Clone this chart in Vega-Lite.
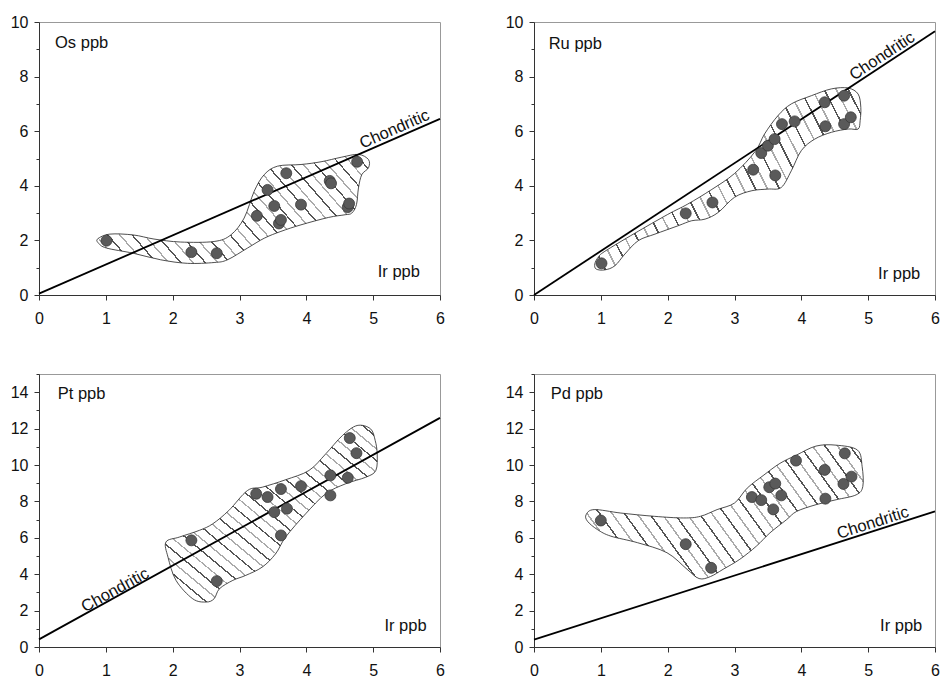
{
  "$schema": "https://vega.github.io/schema/vega-lite/v6.json",
  "background": "white",
  "padding": {"left": 9, "top": 13, "right": 5, "bottom": 5},
  "bounds": "flush",
  "columns": 2,
  "spacing": {"row": 79, "column": 94},
  "datasets": {
    "pts": [
      {"p":"Os","x":1.01,"y":1.99},{"p":"Os","x":2.28,"y":1.57},{"p":"Os","x":2.66,"y":1.53},{"p":"Os","x":3.26,"y":2.9},{"p":"Os","x":3.42,"y":3.85},{"p":"Os","x":3.52,"y":3.26},{"p":"Os","x":3.59,"y":2.62},{"p":"Os","x":3.62,"y":2.75},{"p":"Os","x":3.7,"y":4.46},{"p":"Os","x":3.92,"y":3.31},{"p":"Os","x":4.35,"y":4.18},{"p":"Os","x":4.37,"y":4.09},{"p":"Os","x":4.62,"y":3.22},{"p":"Os","x":4.64,"y":3.35},{"p":"Os","x":4.76,"y":4.88},
      {"p":"Ru","x":1.01,"y":1.16},{"p":"Ru","x":2.27,"y":2.99},{"p":"Ru","x":2.67,"y":3.39},{"p":"Ru","x":3.28,"y":4.59},{"p":"Ru","x":3.4,"y":5.2},{"p":"Ru","x":3.5,"y":5.47},{"p":"Ru","x":3.6,"y":5.71},{"p":"Ru","x":3.61,"y":4.38},{"p":"Ru","x":3.71,"y":6.26},{"p":"Ru","x":3.9,"y":6.36},{"p":"Ru","x":4.35,"y":7.06},{"p":"Ru","x":4.36,"y":6.18},{"p":"Ru","x":4.64,"y":7.3},{"p":"Ru","x":4.64,"y":6.26},{"p":"Ru","x":4.74,"y":6.51},
      {"p":"Pt","x":2.28,"y":5.86},{"p":"Pt","x":2.66,"y":3.62},{"p":"Pt","x":3.25,"y":8.42},{"p":"Pt","x":3.42,"y":8.24},{"p":"Pt","x":3.52,"y":7.41},{"p":"Pt","x":3.62,"y":8.68},{"p":"Pt","x":3.62,"y":6.13},{"p":"Pt","x":3.71,"y":7.6},{"p":"Pt","x":3.92,"y":8.84},{"p":"Pt","x":4.36,"y":9.43},{"p":"Pt","x":4.36,"y":8.33},{"p":"Pt","x":4.62,"y":9.3},{"p":"Pt","x":4.65,"y":11.48},{"p":"Pt","x":4.75,"y":10.65},
      {"p":"Pd","x":1.0,"y":6.95},{"p":"Pd","x":2.27,"y":5.65},{"p":"Pd","x":2.65,"y":4.35},{"p":"Pd","x":3.26,"y":8.24},{"p":"Pd","x":3.4,"y":8.07},{"p":"Pd","x":3.52,"y":8.78},{"p":"Pd","x":3.61,"y":8.98},{"p":"Pd","x":3.58,"y":7.56},{"p":"Pd","x":3.7,"y":8.33},{"p":"Pd","x":3.92,"y":10.24},{"p":"Pd","x":4.35,"y":9.73},{"p":"Pd","x":4.36,"y":8.15},{"p":"Pd","x":4.65,"y":10.64},{"p":"Pd","x":4.63,"y":8.96},{"p":"Pd","x":4.75,"y":9.36}
    ],
    "chon": [
      {"p":"Os","x":0,"y":0.05},{"p":"Os","x":6,"y":6.45},
      {"p":"Ru","x":0,"y":0},{"p":"Ru","x":6,"y":9.66},
      {"p":"Pt","x":0,"y":0.42},{"p":"Pt","x":6,"y":12.59},
      {"p":"Pd","x":0,"y":0.4},{"p":"Pd","x":6,"y":7.45}
    ],
    "env": [
      {"p":"Os","i":0,"x":0.88,"y":2.06},{"p":"Os","i":1,"x":1.06,"y":2.23},{"p":"Os","i":2,"x":1.41,"y":2.2},{"p":"Os","i":3,"x":1.72,"y":2.05},{"p":"Os","i":4,"x":2.12,"y":1.94},{"p":"Os","i":5,"x":2.62,"y":1.96},{"p":"Os","i":6,"x":2.87,"y":2.2},{"p":"Os","i":7,"x":3.07,"y":2.82},{"p":"Os","i":8,"x":3.22,"y":3.8},{"p":"Os","i":9,"x":3.37,"y":4.41},{"p":"Os","i":10,"x":3.57,"y":4.72},{"p":"Os","i":11,"x":3.92,"y":4.78},{"p":"Os","i":12,"x":4.22,"y":4.88},{"p":"Os","i":13,"x":4.53,"y":5.05},{"p":"Os","i":14,"x":4.78,"y":5.15},{"p":"Os","i":15,"x":4.93,"y":4.96},{"p":"Os","i":16,"x":4.93,"y":4.66},{"p":"Os","i":17,"x":4.83,"y":4.41},{"p":"Os","i":18,"x":4.78,"y":3.92},{"p":"Os","i":19,"x":4.75,"y":3.31},{"p":"Os","i":20,"x":4.68,"y":3.0},{"p":"Os","i":21,"x":4.58,"y":2.94},{"p":"Os","i":22,"x":4.33,"y":2.84},{"p":"Os","i":23,"x":3.92,"y":2.57},{"p":"Os","i":24,"x":3.62,"y":2.33},{"p":"Os","i":25,"x":3.37,"y":2.08},{"p":"Os","i":26,"x":3.12,"y":1.72},{"p":"Os","i":27,"x":2.82,"y":1.29},{"p":"Os","i":28,"x":2.62,"y":1.19},{"p":"Os","i":29,"x":2.22,"y":1.16},{"p":"Os","i":30,"x":1.82,"y":1.29},{"p":"Os","i":31,"x":1.41,"y":1.53},{"p":"Os","i":32,"x":1.01,"y":1.72},{"p":"Os","i":33,"x":0.89,"y":1.9},
      {"p":"Ru","i":0,"x":0.91,"y":1.14},{"p":"Ru","i":1,"x":0.96,"y":1.38},{"p":"Ru","i":2,"x":1.06,"y":1.6},{"p":"Ru","i":3,"x":1.5,"y":2.25},{"p":"Ru","i":4,"x":2.0,"y":2.95},{"p":"Ru","i":5,"x":2.3,"y":3.33},{"p":"Ru","i":6,"x":2.65,"y":3.85},{"p":"Ru","i":7,"x":3.0,"y":4.45},{"p":"Ru","i":8,"x":3.31,"y":5.26},{"p":"Ru","i":9,"x":3.45,"y":5.9},{"p":"Ru","i":10,"x":3.65,"y":6.57},{"p":"Ru","i":11,"x":3.85,"y":7.0},{"p":"Ru","i":12,"x":4.15,"y":7.3},{"p":"Ru","i":13,"x":4.45,"y":7.55},{"p":"Ru","i":14,"x":4.7,"y":7.58},{"p":"Ru","i":15,"x":4.85,"y":7.36},{"p":"Ru","i":16,"x":4.89,"y":6.87},{"p":"Ru","i":17,"x":4.88,"y":6.39},{"p":"Ru","i":18,"x":4.85,"y":6.08},{"p":"Ru","i":19,"x":4.7,"y":6.08},{"p":"Ru","i":20,"x":4.45,"y":5.96},{"p":"Ru","i":21,"x":4.2,"y":5.71},{"p":"Ru","i":22,"x":4.0,"y":5.29},{"p":"Ru","i":23,"x":3.85,"y":4.55},{"p":"Ru","i":24,"x":3.7,"y":3.94},{"p":"Ru","i":25,"x":3.5,"y":3.88},{"p":"Ru","i":26,"x":3.26,"y":3.82},{"p":"Ru","i":27,"x":3.0,"y":3.58},{"p":"Ru","i":28,"x":2.76,"y":3.03},{"p":"Ru","i":29,"x":2.56,"y":2.78},{"p":"Ru","i":30,"x":2.36,"y":2.72},{"p":"Ru","i":31,"x":2.16,"y":2.54},{"p":"Ru","i":32,"x":1.81,"y":2.23},{"p":"Ru","i":33,"x":1.56,"y":1.99},{"p":"Ru","i":34,"x":1.36,"y":1.5},{"p":"Ru","i":35,"x":1.21,"y":1.07},{"p":"Ru","i":36,"x":1.06,"y":0.92},{"p":"Ru","i":37,"x":0.93,"y":0.95},
      {"p":"Pt","i":0,"x":1.9,"y":5.77},{"p":"Pt","i":1,"x":2.1,"y":6.04},{"p":"Pt","i":2,"x":2.4,"y":6.41},{"p":"Pt","i":3,"x":2.6,"y":6.77},{"p":"Pt","i":4,"x":2.84,"y":7.5},{"p":"Pt","i":5,"x":3.12,"y":8.6},{"p":"Pt","i":6,"x":3.34,"y":8.78},{"p":"Pt","i":7,"x":3.69,"y":9.19},{"p":"Pt","i":8,"x":4.04,"y":9.7},{"p":"Pt","i":9,"x":4.29,"y":10.61},{"p":"Pt","i":10,"x":4.54,"y":11.62},{"p":"Pt","i":11,"x":4.76,"y":12.17},{"p":"Pt","i":12,"x":4.96,"y":11.99},{"p":"Pt","i":13,"x":5.03,"y":11.35},{"p":"Pt","i":14,"x":5.06,"y":10.61},{"p":"Pt","i":15,"x":5.04,"y":9.7},{"p":"Pt","i":16,"x":4.89,"y":9.33},{"p":"Pt","i":17,"x":4.59,"y":8.97},{"p":"Pt","i":18,"x":4.29,"y":8.42},{"p":"Pt","i":19,"x":3.99,"y":7.32},{"p":"Pt","i":20,"x":3.69,"y":6.04},{"p":"Pt","i":21,"x":3.54,"y":5.12},{"p":"Pt","i":22,"x":3.34,"y":4.39},{"p":"Pt","i":23,"x":3.09,"y":3.93},{"p":"Pt","i":24,"x":2.9,"y":3.66},{"p":"Pt","i":25,"x":2.7,"y":3.2},{"p":"Pt","i":26,"x":2.62,"y":2.65},{"p":"Pt","i":27,"x":2.5,"y":2.47},{"p":"Pt","i":28,"x":2.3,"y":2.65},{"p":"Pt","i":29,"x":2.05,"y":3.66},{"p":"Pt","i":30,"x":1.93,"y":4.94},
      {"p":"Pd","i":0,"x":0.78,"y":7.27},{"p":"Pd","i":1,"x":0.9,"y":7.55},{"p":"Pd","i":2,"x":1.3,"y":7.36},{"p":"Pd","i":3,"x":1.8,"y":7.18},{"p":"Pd","i":4,"x":2.24,"y":7.09},{"p":"Pd","i":5,"x":2.49,"y":7.18},{"p":"Pd","i":6,"x":2.74,"y":7.55},{"p":"Pd","i":7,"x":3.0,"y":7.91},{"p":"Pd","i":8,"x":3.19,"y":8.73},{"p":"Pd","i":9,"x":3.44,"y":9.45},{"p":"Pd","i":10,"x":3.68,"y":10.09},{"p":"Pd","i":11,"x":3.93,"y":10.55},{"p":"Pd","i":12,"x":4.22,"y":11.04},{"p":"Pd","i":13,"x":4.52,"y":11.09},{"p":"Pd","i":14,"x":4.84,"y":10.82},{"p":"Pd","i":15,"x":4.91,"y":9.91},{"p":"Pd","i":16,"x":4.92,"y":8.82},{"p":"Pd","i":17,"x":4.82,"y":8.36},{"p":"Pd","i":18,"x":4.52,"y":8.09},{"p":"Pd","i":19,"x":4.22,"y":7.82},{"p":"Pd","i":20,"x":3.93,"y":7.45},{"p":"Pd","i":21,"x":3.78,"y":7.0},{"p":"Pd","i":22,"x":3.53,"y":6.27},{"p":"Pd","i":23,"x":3.33,"y":5.55},{"p":"Pd","i":24,"x":3.08,"y":4.82},{"p":"Pd","i":25,"x":2.83,"y":4.27},{"p":"Pd","i":26,"x":2.64,"y":3.87},{"p":"Pd","i":27,"x":2.47,"y":3.76},{"p":"Pd","i":28,"x":2.29,"y":4.27},{"p":"Pd","i":29,"x":1.99,"y":5.18},{"p":"Pd","i":30,"x":1.55,"y":5.73},{"p":"Pd","i":31,"x":1.15,"y":6.09},{"p":"Pd","i":32,"x":0.95,"y":6.45},{"p":"Pd","i":33,"x":0.8,"y":6.91}
    ],
    "lab": [
      {"p":"Os","k":"el","x":0.24,"y":9.23,"t":"Os ppb"},{"p":"Os","k":"ir","x":5.7,"y":0.85,"t":"Ir ppb"},{"p":"Os","k":"ch","x":5.32,"y":6.07,"t":"Chondritic"},
      {"p":"Ru","k":"el","x":0.22,"y":9.18,"t":"Ru ppb"},{"p":"Ru","k":"ir","x":5.78,"y":0.77,"t":"Ir ppb"},{"p":"Ru","k":"ch","x":5.21,"y":8.75,"t":"Chondritic"},
      {"p":"Pt","k":"el","x":0.28,"y":13.9,"t":"Pt ppb"},{"p":"Pt","k":"ir","x":5.8,"y":1.14,"t":"Ir ppb"},{"p":"Pt","k":"ch","x":1.14,"y":3.12,"t":"Chondritic"},
      {"p":"Pd","k":"el","x":0.25,"y":13.9,"t":"Pd ppb"},{"p":"Pd","k":"ir","x":5.81,"y":1.16,"t":"Ir ppb"},{"p":"Pd","k":"ch","x":5.07,"y":6.82,"t":"Chondritic"}
    ]
  },
  "concat": [
    {
      "width": 401, "height": 273,
      "encoding": {
        "x": {"field":"x","type":"quantitative","title":null,"scale":{"domain":[0,6],"nice":false,"zero":false},"axis":{"values":[0,1,2,3,4,5,6]}},
        "y": {"field":"y","type":"quantitative","title":null,"scale":{"domain":[0,10],"nice":false},"axis":{"values":[0,1,2,3,4,5,6,7,8,9,10],"labelExpr":"datum.value % 2 === 0 ? datum.label : ''","tickSize":{"condition":{"test":"datum.value % 2 === 1","value":3},"value":5}}}
      },
      "layer": [
        {"data":{"name":"env"},"transform":[{"filter":"datum.p==='Os'"}],"mark":{"type":"line","interpolate":"cardinal-closed","style":"hatch","stroke":"#222","strokeWidth":0.8},"encoding":{"order":{"field":"i","type":"quantitative"}}},
        {"data":{"name":"chon"},"transform":[{"filter":"datum.p==='Os'"}],"mark":{"type":"line","stroke":"#000","strokeWidth":1.8},"encoding":{}},
        {"data":{"name":"pts"},"transform":[{"filter":"datum.p==='Os'"}],"mark":{"type":"circle","size":120,"fill":"#5a5a5a","stroke":"#3a3a3a","strokeWidth":0.8,"opacity":1},"encoding":{}},
        {"data":{"name":"lab"},"transform":[{"filter":"datum.p==='Os' && datum.k==='el'"}],"mark":{"type":"text","align":"left","baseline":"middle"},"encoding":{"text":{"field":"t"}}},
        {"data":{"name":"lab"},"transform":[{"filter":"datum.p==='Os' && datum.k==='ir'"}],"mark":{"type":"text","align":"right","baseline":"middle"},"encoding":{"text":{"field":"t"}}},
        {"data":{"name":"lab"},"transform":[{"filter":"datum.p==='Os' && datum.k==='ch'"}],"mark":{"type":"text","align":"center","baseline":"middle","angle":336.4},"encoding":{"text":{"field":"t"}}}
      ]
    },
    {
      "width": 401, "height": 273,
      "encoding": {
        "x": {"field":"x","type":"quantitative","title":null,"scale":{"domain":[0,6],"nice":false,"zero":false},"axis":{"values":[0,1,2,3,4,5,6]}},
        "y": {"field":"y","type":"quantitative","title":null,"scale":{"domain":[0,10],"nice":false},"axis":{"values":[0,1,2,3,4,5,6,7,8,9,10],"labelExpr":"datum.value % 2 === 0 ? datum.label : ''","tickSize":{"condition":{"test":"datum.value % 2 === 1","value":3},"value":5}}}
      },
      "layer": [
        {"data":{"name":"env"},"transform":[{"filter":"datum.p==='Ru'"}],"mark":{"type":"line","interpolate":"cardinal-closed","style":"hatch","stroke":"#222","strokeWidth":0.8},"encoding":{"order":{"field":"i","type":"quantitative"}}},
        {"data":{"name":"chon"},"transform":[{"filter":"datum.p==='Ru'"}],"mark":{"type":"line","stroke":"#000","strokeWidth":1.8},"encoding":{}},
        {"data":{"name":"pts"},"transform":[{"filter":"datum.p==='Ru'"}],"mark":{"type":"circle","size":120,"fill":"#5a5a5a","stroke":"#3a3a3a","strokeWidth":0.8,"opacity":1},"encoding":{}},
        {"data":{"name":"lab"},"transform":[{"filter":"datum.p==='Ru' && datum.k==='el'"}],"mark":{"type":"text","align":"left","baseline":"middle"},"encoding":{"text":{"field":"t"}}},
        {"data":{"name":"lab"},"transform":[{"filter":"datum.p==='Ru' && datum.k==='ir'"}],"mark":{"type":"text","align":"right","baseline":"middle"},"encoding":{"text":{"field":"t"}}},
        {"data":{"name":"lab"},"transform":[{"filter":"datum.p==='Ru' && datum.k==='ch'"}],"mark":{"type":"text","align":"center","baseline":"middle","angle":326.7},"encoding":{"text":{"field":"t"}}}
      ]
    },
    {
      "width": 401, "height": 273,
      "encoding": {
        "x": {"field":"x","type":"quantitative","title":null,"scale":{"domain":[0,6],"nice":false,"zero":false},"axis":{"values":[0,1,2,3,4,5,6]}},
        "y": {"field":"y","type":"quantitative","title":null,"scale":{"domain":[0,15],"nice":false},"axis":{"values":[0,1,2,3,4,5,6,7,8,9,10,11,12,13,14,15],"labelExpr":"datum.value % 2 === 0 ? datum.label : ''","tickSize":{"condition":{"test":"datum.value % 2 === 1","value":3},"value":5}}}
      },
      "layer": [
        {"data":{"name":"env"},"transform":[{"filter":"datum.p==='Pt'"}],"mark":{"type":"line","interpolate":"cardinal-closed","style":"hatch2","stroke":"#222","strokeWidth":0.8},"encoding":{"order":{"field":"i","type":"quantitative"}}},
        {"data":{"name":"chon"},"transform":[{"filter":"datum.p==='Pt'"}],"mark":{"type":"line","stroke":"#000","strokeWidth":1.8},"encoding":{}},
        {"data":{"name":"pts"},"transform":[{"filter":"datum.p==='Pt'"}],"mark":{"type":"circle","size":120,"fill":"#5a5a5a","stroke":"#3a3a3a","strokeWidth":0.8,"opacity":1},"encoding":{}},
        {"data":{"name":"lab"},"transform":[{"filter":"datum.p==='Pt' && datum.k==='el'"}],"mark":{"type":"text","align":"left","baseline":"middle"},"encoding":{"text":{"field":"t"}}},
        {"data":{"name":"lab"},"transform":[{"filter":"datum.p==='Pt' && datum.k==='ir'"}],"mark":{"type":"text","align":"right","baseline":"middle"},"encoding":{"text":{"field":"t"}}},
        {"data":{"name":"lab"},"transform":[{"filter":"datum.p==='Pt' && datum.k==='ch'"}],"mark":{"type":"text","align":"center","baseline":"middle","angle":331.1},"encoding":{"text":{"field":"t"}}}
      ]
    },
    {
      "width": 401, "height": 273,
      "encoding": {
        "x": {"field":"x","type":"quantitative","title":null,"scale":{"domain":[0,6],"nice":false,"zero":false},"axis":{"values":[0,1,2,3,4,5,6]}},
        "y": {"field":"y","type":"quantitative","title":null,"scale":{"domain":[0,15],"nice":false},"axis":{"values":[0,1,2,3,4,5,6,7,8,9,10,11,12,13,14,15],"labelExpr":"datum.value % 2 === 0 ? datum.label : ''","tickSize":{"condition":{"test":"datum.value % 2 === 1","value":3},"value":5}}}
      },
      "layer": [
        {"data":{"name":"env"},"transform":[{"filter":"datum.p==='Pd'"}],"mark":{"type":"line","interpolate":"cardinal-closed","style":"hatch","stroke":"#222","strokeWidth":0.8},"encoding":{"order":{"field":"i","type":"quantitative"}}},
        {"data":{"name":"chon"},"transform":[{"filter":"datum.p==='Pd'"}],"mark":{"type":"line","stroke":"#000","strokeWidth":1.8},"encoding":{}},
        {"data":{"name":"pts"},"transform":[{"filter":"datum.p==='Pd'"}],"mark":{"type":"circle","size":120,"fill":"#5a5a5a","stroke":"#3a3a3a","strokeWidth":0.8,"opacity":1},"encoding":{}},
        {"data":{"name":"lab"},"transform":[{"filter":"datum.p==='Pd' && datum.k==='el'"}],"mark":{"type":"text","align":"left","baseline":"middle"},"encoding":{"text":{"field":"t"}}},
        {"data":{"name":"lab"},"transform":[{"filter":"datum.p==='Pd' && datum.k==='ir'"}],"mark":{"type":"text","align":"right","baseline":"middle"},"encoding":{"text":{"field":"t"}}},
        {"data":{"name":"lab"},"transform":[{"filter":"datum.p==='Pd' && datum.k==='ch'"}],"mark":{"type":"text","align":"center","baseline":"middle","angle":342.2},"encoding":{"text":{"field":"t"}}}
      ]
    }
  ],
  "config": {
    "font": "Liberation Sans",
    "view": {"stroke": "#999", "strokeWidth": 1},
    "axis": {"grid": false, "labelFont": "Liberation Sans", "labelFontSize": 16, "labelColor": "#111", "domainColor": "#333", "tickColor": "#333", "tickSize": 5, "labelFlush": false, "labelOverlap": false},
    "axisX": {"labelPadding": 10},
    "axisY": {"labelPadding": 6},
    "text": {"font": "Liberation Sans", "fontSize": 16.5, "color": "#111"},
    "style": {
      "hatch": {
        "fill": {
          "gradient": "linear", "x1": 0, "y1": 1, "x2": 1.2, "y2": 0.58,
          "stops": [
            {"offset":0,"color":"#fff"},{"offset":0.0283,"color":"#fff"},{"offset":0.0283,"color":"#555"},{"offset":0.0333,"color":"#555"},
            {"offset":0.0333,"color":"#fff"},{"offset":0.0617,"color":"#fff"},{"offset":0.0617,"color":"#aaa"},{"offset":0.0667,"color":"#aaa"},
            {"offset":0.0667,"color":"#fff"},{"offset":0.095,"color":"#fff"},{"offset":0.095,"color":"#555"},{"offset":0.1,"color":"#555"},
            {"offset":0.1,"color":"#fff"},{"offset":0.1283,"color":"#fff"},{"offset":0.1283,"color":"#aaa"},{"offset":0.1333,"color":"#aaa"},
            {"offset":0.1333,"color":"#fff"},{"offset":0.1617,"color":"#fff"},{"offset":0.1617,"color":"#555"},{"offset":0.1667,"color":"#555"},
            {"offset":0.1667,"color":"#fff"},{"offset":0.195,"color":"#fff"},{"offset":0.195,"color":"#aaa"},{"offset":0.2,"color":"#aaa"},
            {"offset":0.2,"color":"#fff"},{"offset":0.2283,"color":"#fff"},{"offset":0.2283,"color":"#555"},{"offset":0.2333,"color":"#555"},
            {"offset":0.2333,"color":"#fff"},{"offset":0.2617,"color":"#fff"},{"offset":0.2617,"color":"#aaa"},{"offset":0.2667,"color":"#aaa"},
            {"offset":0.2667,"color":"#fff"},{"offset":0.295,"color":"#fff"},{"offset":0.295,"color":"#555"},{"offset":0.3,"color":"#555"},
            {"offset":0.3,"color":"#fff"},{"offset":0.3283,"color":"#fff"},{"offset":0.3283,"color":"#aaa"},{"offset":0.3333,"color":"#aaa"},
            {"offset":0.3333,"color":"#fff"},{"offset":0.3617,"color":"#fff"},{"offset":0.3617,"color":"#555"},{"offset":0.3667,"color":"#555"},
            {"offset":0.3667,"color":"#fff"},{"offset":0.395,"color":"#fff"},{"offset":0.395,"color":"#aaa"},{"offset":0.4,"color":"#aaa"},
            {"offset":0.4,"color":"#fff"},{"offset":0.4283,"color":"#fff"},{"offset":0.4283,"color":"#555"},{"offset":0.4333,"color":"#555"},
            {"offset":0.4333,"color":"#fff"},{"offset":0.4617,"color":"#fff"},{"offset":0.4617,"color":"#aaa"},{"offset":0.4667,"color":"#aaa"},
            {"offset":0.4667,"color":"#fff"},{"offset":0.495,"color":"#fff"},{"offset":0.495,"color":"#555"},{"offset":0.5,"color":"#555"},
            {"offset":0.5,"color":"#fff"},{"offset":0.5283,"color":"#fff"},{"offset":0.5283,"color":"#aaa"},{"offset":0.5333,"color":"#aaa"},
            {"offset":0.5333,"color":"#fff"},{"offset":0.5617,"color":"#fff"},{"offset":0.5617,"color":"#555"},{"offset":0.5667,"color":"#555"},
            {"offset":0.5667,"color":"#fff"},{"offset":0.595,"color":"#fff"},{"offset":0.595,"color":"#aaa"},{"offset":0.6,"color":"#aaa"},
            {"offset":0.6,"color":"#fff"},{"offset":0.6283,"color":"#fff"},{"offset":0.6283,"color":"#555"},{"offset":0.6333,"color":"#555"},
            {"offset":0.6333,"color":"#fff"},{"offset":0.6617,"color":"#fff"},{"offset":0.6617,"color":"#aaa"},{"offset":0.6667,"color":"#aaa"},
            {"offset":0.6667,"color":"#fff"},{"offset":0.695,"color":"#fff"},{"offset":0.695,"color":"#555"},{"offset":0.7,"color":"#555"},
            {"offset":0.7,"color":"#fff"},{"offset":0.7283,"color":"#fff"},{"offset":0.7283,"color":"#aaa"},{"offset":0.7333,"color":"#aaa"},
            {"offset":0.7333,"color":"#fff"},{"offset":0.7617,"color":"#fff"},{"offset":0.7617,"color":"#555"},{"offset":0.7667,"color":"#555"},
            {"offset":0.7667,"color":"#fff"},{"offset":0.795,"color":"#fff"},{"offset":0.795,"color":"#aaa"},{"offset":0.8,"color":"#aaa"},
            {"offset":0.8,"color":"#fff"},{"offset":0.8283,"color":"#fff"},{"offset":0.8283,"color":"#555"},{"offset":0.8333,"color":"#555"},
            {"offset":0.8333,"color":"#fff"},{"offset":0.8617,"color":"#fff"},{"offset":0.8617,"color":"#aaa"},{"offset":0.8667,"color":"#aaa"},
            {"offset":0.8667,"color":"#fff"},{"offset":0.895,"color":"#fff"},{"offset":0.895,"color":"#555"},{"offset":0.9,"color":"#555"},
            {"offset":0.9,"color":"#fff"},{"offset":0.9283,"color":"#fff"},{"offset":0.9283,"color":"#aaa"},{"offset":0.9333,"color":"#aaa"},
            {"offset":0.9333,"color":"#fff"},{"offset":0.9617,"color":"#fff"},{"offset":0.9617,"color":"#555"},{"offset":0.9667,"color":"#555"},
            {"offset":0.9667,"color":"#fff"},{"offset":0.995,"color":"#fff"},{"offset":0.995,"color":"#aaa"},{"offset":1,"color":"#aaa"}
          ]
        }
      },
      "hatch2": {
        "fill": {
          "gradient": "linear", "x1": 0, "y1": 1, "x2": 1, "y2": 0,
          "stops": [
            {"offset":0,"color":"#fff"},{"offset":0.0283,"color":"#fff"},{"offset":0.0283,"color":"#555"},{"offset":0.0333,"color":"#555"},
            {"offset":0.0333,"color":"#fff"},{"offset":0.0617,"color":"#fff"},{"offset":0.0617,"color":"#aaa"},{"offset":0.0667,"color":"#aaa"},
            {"offset":0.0667,"color":"#fff"},{"offset":0.095,"color":"#fff"},{"offset":0.095,"color":"#555"},{"offset":0.1,"color":"#555"},
            {"offset":0.1,"color":"#fff"},{"offset":0.1283,"color":"#fff"},{"offset":0.1283,"color":"#aaa"},{"offset":0.1333,"color":"#aaa"},
            {"offset":0.1333,"color":"#fff"},{"offset":0.1617,"color":"#fff"},{"offset":0.1617,"color":"#555"},{"offset":0.1667,"color":"#555"},
            {"offset":0.1667,"color":"#fff"},{"offset":0.195,"color":"#fff"},{"offset":0.195,"color":"#aaa"},{"offset":0.2,"color":"#aaa"},
            {"offset":0.2,"color":"#fff"},{"offset":0.2283,"color":"#fff"},{"offset":0.2283,"color":"#555"},{"offset":0.2333,"color":"#555"},
            {"offset":0.2333,"color":"#fff"},{"offset":0.2617,"color":"#fff"},{"offset":0.2617,"color":"#aaa"},{"offset":0.2667,"color":"#aaa"},
            {"offset":0.2667,"color":"#fff"},{"offset":0.295,"color":"#fff"},{"offset":0.295,"color":"#555"},{"offset":0.3,"color":"#555"},
            {"offset":0.3,"color":"#fff"},{"offset":0.3283,"color":"#fff"},{"offset":0.3283,"color":"#aaa"},{"offset":0.3333,"color":"#aaa"},
            {"offset":0.3333,"color":"#fff"},{"offset":0.3617,"color":"#fff"},{"offset":0.3617,"color":"#555"},{"offset":0.3667,"color":"#555"},
            {"offset":0.3667,"color":"#fff"},{"offset":0.395,"color":"#fff"},{"offset":0.395,"color":"#aaa"},{"offset":0.4,"color":"#aaa"},
            {"offset":0.4,"color":"#fff"},{"offset":0.4283,"color":"#fff"},{"offset":0.4283,"color":"#555"},{"offset":0.4333,"color":"#555"},
            {"offset":0.4333,"color":"#fff"},{"offset":0.4617,"color":"#fff"},{"offset":0.4617,"color":"#aaa"},{"offset":0.4667,"color":"#aaa"},
            {"offset":0.4667,"color":"#fff"},{"offset":0.495,"color":"#fff"},{"offset":0.495,"color":"#555"},{"offset":0.5,"color":"#555"},
            {"offset":0.5,"color":"#fff"},{"offset":0.5283,"color":"#fff"},{"offset":0.5283,"color":"#aaa"},{"offset":0.5333,"color":"#aaa"},
            {"offset":0.5333,"color":"#fff"},{"offset":0.5617,"color":"#fff"},{"offset":0.5617,"color":"#555"},{"offset":0.5667,"color":"#555"},
            {"offset":0.5667,"color":"#fff"},{"offset":0.595,"color":"#fff"},{"offset":0.595,"color":"#aaa"},{"offset":0.6,"color":"#aaa"},
            {"offset":0.6,"color":"#fff"},{"offset":0.6283,"color":"#fff"},{"offset":0.6283,"color":"#555"},{"offset":0.6333,"color":"#555"},
            {"offset":0.6333,"color":"#fff"},{"offset":0.6617,"color":"#fff"},{"offset":0.6617,"color":"#aaa"},{"offset":0.6667,"color":"#aaa"},
            {"offset":0.6667,"color":"#fff"},{"offset":0.695,"color":"#fff"},{"offset":0.695,"color":"#555"},{"offset":0.7,"color":"#555"},
            {"offset":0.7,"color":"#fff"},{"offset":0.7283,"color":"#fff"},{"offset":0.7283,"color":"#aaa"},{"offset":0.7333,"color":"#aaa"},
            {"offset":0.7333,"color":"#fff"},{"offset":0.7617,"color":"#fff"},{"offset":0.7617,"color":"#555"},{"offset":0.7667,"color":"#555"},
            {"offset":0.7667,"color":"#fff"},{"offset":0.795,"color":"#fff"},{"offset":0.795,"color":"#aaa"},{"offset":0.8,"color":"#aaa"},
            {"offset":0.8,"color":"#fff"},{"offset":0.8283,"color":"#fff"},{"offset":0.8283,"color":"#555"},{"offset":0.8333,"color":"#555"},
            {"offset":0.8333,"color":"#fff"},{"offset":0.8617,"color":"#fff"},{"offset":0.8617,"color":"#aaa"},{"offset":0.8667,"color":"#aaa"},
            {"offset":0.8667,"color":"#fff"},{"offset":0.895,"color":"#fff"},{"offset":0.895,"color":"#555"},{"offset":0.9,"color":"#555"},
            {"offset":0.9,"color":"#fff"},{"offset":0.9283,"color":"#fff"},{"offset":0.9283,"color":"#aaa"},{"offset":0.9333,"color":"#aaa"},
            {"offset":0.9333,"color":"#fff"},{"offset":0.9617,"color":"#fff"},{"offset":0.9617,"color":"#555"},{"offset":0.9667,"color":"#555"},
            {"offset":0.9667,"color":"#fff"},{"offset":0.995,"color":"#fff"},{"offset":0.995,"color":"#aaa"},{"offset":1,"color":"#aaa"}
          ]
        }
      }
    }
  }
}
